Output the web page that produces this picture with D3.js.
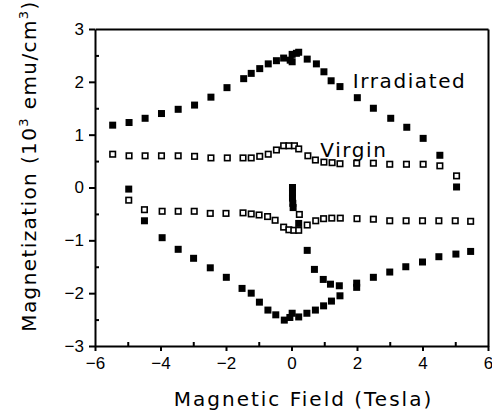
<!DOCTYPE html>
<html>
<head>
<meta charset="utf-8">
<script src="https://cdn.jsdelivr.net/npm/d3@7"></script>
<style>
    body { margin: 0; background: #fff; }
    svg { display: block; font-family: "DejaVu Sans", sans-serif; }
    .axis line, .axis path { stroke: #000; stroke-width: 2; }
    .axis text { font-size: 17px; fill: #000; }
    .label { font-size: 20px; fill: #000; }
</style>
</head>
<body>
<svg id="chart" width="492" height="411"></svg>
<script>
(function (d3) {
    'use strict';

    // Irradiated sample (filled squares), [field T, magnetization 10^3 emu/cm^3]
    var irradiatedUpper = [
        [-5.46, 1.18], [-4.96, 1.23], [-4.47, 1.31], [-3.97, 1.40], [-3.46, 1.48],
        [-2.96, 1.56], [-2.46, 1.71], [-1.97, 1.89], [-1.46, 2.06], [-1.23, 2.16],
        [-0.97, 2.25], [-0.71, 2.34], [-0.46, 2.40], [-0.24, 2.45], [-0.04, 2.41],
        [0.02, 2.38], [0.02, 2.52], [0.15, 2.54], [0.22, 2.56], [0.48, 2.43],
        [0.76, 2.34], [0.99, 2.19], [1.21, 2.02], [1.48, 1.91], [2.01, 1.70],
        [2.50, 1.50], [3.03, 1.31], [3.52, 1.14], [4.02, 0.93], [4.53, 0.61],
        [5.04, 0.01]
    ];
    var irradiatedLower = [
        [-4.97, -0.03], [-4.49, -0.63], [-3.95, -0.95], [-3.46, -1.17], [-2.99, -1.34],
        [-2.48, -1.52], [-1.99, -1.70], [-1.51, -1.91], [-1.23, -2.00], [-0.98, -2.17],
        [-0.72, -2.32], [-0.48, -2.41], [-0.22, -2.51], [-0.05, -2.46], [0.02, -2.38],
        [0.22, -2.45], [0.47, -2.38], [0.73, -2.32], [0.98, -2.24], [1.22, -2.15],
        [1.48, -2.05], [1.99, -1.89], [2.50, -1.70], [3.00, -1.60], [3.49, -1.50],
        [4.00, -1.41], [4.50, -1.31], [5.02, -1.26], [5.47, -1.21]
    ];
    var irradiatedInitial = [
        [0.03, 0.00], [0.03, -0.10], [0.03, -0.20], [0.04, -0.30], [0.05, -0.38],
        [0.22, -0.68], [0.48, -1.19], [0.70, -1.55], [0.97, -1.74], [1.19, -1.83],
        [1.46, -1.86], [1.99, -1.81]
    ];

    // Virgin sample (open squares)
    var virginUpper = [
        [-5.46, 0.63], [-4.96, 0.60], [-4.47, 0.60], [-3.97, 0.60], [-3.46, 0.60],
        [-2.96, 0.59], [-2.46, 0.56], [-1.96, 0.56], [-1.48, 0.56], [-1.23, 0.56],
        [-0.97, 0.59], [-0.71, 0.63], [-0.46, 0.71], [-0.24, 0.79], [-0.08, 0.79],
        [0.09, 0.79], [0.22, 0.73], [0.50, 0.60], [0.73, 0.52], [0.99, 0.48],
        [1.24, 0.47], [1.48, 0.45], [1.99, 0.46], [2.50, 0.46], [3.00, 0.44],
        [3.51, 0.44], [4.02, 0.44], [4.53, 0.41], [5.04, 0.22]
    ];
    var virginLower = [
        [-4.97, -0.24], [-4.49, -0.42], [-3.95, -0.45], [-3.46, -0.45], [-2.97, -0.45],
        [-2.48, -0.49], [-2.00, -0.49], [-1.48, -0.48], [-1.23, -0.50], [-0.99, -0.52],
        [-0.73, -0.55], [-0.50, -0.62], [-0.24, -0.75], [-0.08, -0.80], [0.07, -0.81],
        [0.22, -0.81], [0.24, -0.51], [0.48, -0.71], [0.74, -0.63], [0.98, -0.59],
        [1.23, -0.58], [1.49, -0.58], [2.00, -0.59], [2.50, -0.60], [3.00, -0.63],
        [3.50, -0.63], [4.00, -0.63], [4.50, -0.63], [5.00, -0.63], [5.47, -0.64]
    ];

    var xTicks = [-6, -4, -2, 0, 2, 4, 6];
    var xMinorTicks = [-5, -3, -1, 1, 3, 5];
    var yTicks = [-3, -2, -1, 0, 1, 2, 3];
    var yMinorTicks = [-2.5, -1.5, -0.5, 0.5, 1.5, 2.5];

    var margin = { top: 29, right: 4, bottom: 65, left: 95 },
        svg    = d3.select('#chart'),
        width  = +svg.attr('width') - margin.left - margin.right,
        height = +svg.attr('height') - margin.top - margin.bottom,
        g      = svg.append('g').attr('transform', 'translate(' + margin.left + ',' + margin.top + ')');

    var x = d3.scaleLinear().domain([-6, 6]).range([0, width]),
        y = d3.scaleLinear().domain([-3, 3]).range([height, 0]),
        fmt = d3.format('d');

    // frame: the four domain lines of the axes; labelled ticks point out, minor ticks in
    g.append('g').attr('class', 'axis frame')
        .attr('transform', 'translate(0,' + height + ')')
        .call(d3.axisBottom(x).tickValues(xTicks).tickFormat(fmt).tickSize(5).tickSizeOuter(0).tickPadding(6));
    g.append('g').attr('class', 'axis')
        .attr('transform', 'translate(0,' + height + ')')
        .call(d3.axisBottom(x).tickValues(xMinorTicks).tickSize(-4).tickFormat(''));
    g.append('g').attr('class', 'axis frame')
        .call(d3.axisLeft(y).tickValues(yTicks).tickFormat(fmt).tickSize(6).tickSizeOuter(0).tickPadding(5));
    g.append('g').attr('class', 'axis')
        .call(d3.axisLeft(y).tickValues(yMinorTicks).tickSize(-4).tickFormat(''));
    g.append('g').attr('class', 'axis frame')
        .call(d3.axisTop(x).tickValues([]).tickSizeOuter(0));
    g.append('g').attr('class', 'axis frame')
        .attr('transform', 'translate(' + width + ',0)')
        .call(d3.axisRight(y).tickValues([]).tickSizeOuter(0));
    g.selectAll('.axis:not(.frame) .domain').remove();

    function drawSquares(data, filled) {
        var s = filled ? 7 : 5.5;
        g.append('g').selectAll('rect').data(data).enter().append('rect')
            .attr('x', function (d) { return x(d[0]) - s / 2; })
            .attr('y', function (d) { return y(d[1]) - s / 2; })
            .attr('width', s).attr('height', s)
            .attr('fill', filled ? '#000' : '#fff')
            .attr('stroke', '#000')
            .attr('stroke-width', filled ? 0 : 1.6);
    }

    drawSquares(virginUpper, false);
    drawSquares(virginLower, false);
    drawSquares(irradiatedUpper, true);
    drawSquares(irradiatedLower, true);
    drawSquares(irradiatedInitial, true);

    g.append('text').attr('class', 'label')
        .attr('x', x(1.87)).attr('y', y(1.88))
        .attr('letter-spacing', 1.6)
        .text('Irradiated');
    g.append('text').attr('class', 'label')
        .attr('x', x(0.88)).attr('y', y(0.58))
        .attr('letter-spacing', 1.6)
        .text('Virgin');

    svg.append('text').attr('class', 'label')
        .attr('x', margin.left + x(0) + 12).attr('y', 406)
        .attr('text-anchor', 'middle')
        .attr('letter-spacing', 2)
        .text('Magnetic Field (Tesla)');

    var yTitle = svg.append('text').attr('class', 'label')
        .attr('text-anchor', 'middle')
        .attr('letter-spacing', 1.4)
        .attr('transform', 'translate(36,166) rotate(-90)');
    yTitle.append('tspan').text('Magnetization (10');
    yTitle.append('tspan').attr('dy', -8).attr('font-size', 13).text('3');
    yTitle.append('tspan').attr('dy', 8).text(' emu/cm');
    yTitle.append('tspan').attr('dy', -8).attr('font-size', 13).text('3');
    yTitle.append('tspan').attr('dy', 8).text(')');
}(window.d3));
</script>
</body>
</html>
